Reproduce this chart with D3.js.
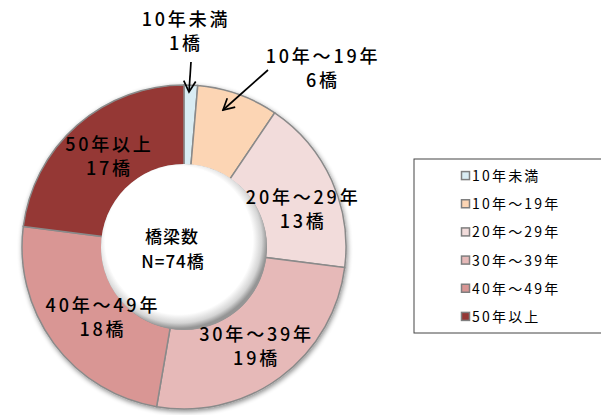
<!DOCTYPE html>
<html>
<head>
<meta charset="utf-8">
<script src="https://cdnjs.cloudflare.com/ajax/libs/d3/7.8.5/d3.min.js"></script>
<style>
  body { margin: 0; background: #fff; }
  svg { display: block; }
  text { font-family: "Noto Sans CJK JP", "Noto Sans", sans-serif; fill: #000; }
</style>
</head>
<body>
<svg id="chart" width="601" height="415"></svg>
<script>
// 橋梁の経過年数
var categories = ['10年未満', '10年～19年', '20年～29年', '30年～39年', '40年～49年', '50年以上'];
var counts = [1, 6, 13, 19, 18, 17];
var colors = ['#d9ecf3', '#fcd5b4', '#f2dcdb', '#e6b9b8', '#d99694', '#953735'];
var centerLines = ['橋梁数', 'N=74橋'];

var width = 601, height = 415;
var cx = 184, cy = 247, rOuter = 162, rInner = 82;

var svg = d3.select('#chart');
var defs = svg.append('defs');

var shadow = defs.append('filter').attr('id', 'shadow')
  .attr('x', '-10%').attr('y', '-10%').attr('width', '120%').attr('height', '120%');
shadow.append('feGaussianBlur').attr('in', 'SourceAlpha').attr('stdDeviation', 2.5).attr('result', 'b');
shadow.append('feOffset').attr('in', 'b').attr('dx', 1).attr('dy', 2).attr('result', 'o');
shadow.append('feComponentTransfer').attr('in', 'o').attr('result', 'o2')
  .append('feFuncA').attr('type', 'linear').attr('slope', 0.45);
var m = shadow.append('feMerge');
m.append('feMergeNode').attr('in', 'o2');
m.append('feMergeNode').attr('in', 'SourceGraphic');

var hole = defs.append('radialGradient').attr('id', 'hole')
  .attr('cx', '47%').attr('cy', '46%').attr('r', '53%');
hole.append('stop').attr('offset', '0%').attr('stop-color', '#fff');
hole.append('stop').attr('offset', '84%').attr('stop-color', '#fff');
hole.append('stop').attr('offset', '94%').attr('stop-color', '#d4d4d4');
hole.append('stop').attr('offset', '100%').attr('stop-color', '#959595');

var arrowMarker = defs.append('marker').attr('id', 'arr')
  .attr('viewBox', '-12 -7 14 14').attr('refX', 0).attr('refY', 0)
  .attr('markerWidth', 14).attr('markerHeight', 14)
  .attr('markerUnits', 'userSpaceOnUse').attr('orient', 'auto');
arrowMarker.append('path').attr('d', 'M-11,-6 L0,0 L-11,6')
  .attr('fill', 'none').attr('stroke', '#000').attr('stroke-width', 1.7);

var pie = d3.pie().sort(null).value(function(d) { return d; });
var arcs = pie(counts);
var arc = d3.arc().innerRadius(rInner).outerRadius(rOuter);

var g = svg.append('g').attr('transform', 'translate(' + cx + ',' + cy + ')');

g.append('g').attr('filter', 'url(#shadow)')
  .selectAll('path').data(arcs).enter().append('path')
  .attr('d', arc)
  .attr('fill', function(d, i) { return colors[i]; })
  .attr('stroke', '#8a8a8a')
  .attr('stroke-width', 1.5);

g.append('circle').attr('r', rInner + 1).attr('fill', 'url(#hole)');

// ラベル位置（重心からのずれ）
var labelLayout = [
  { r: 122, dx: 0, dy: 0, outside: true, x: 186, y: 20 },
  { r: 122, dx: 0, dy: 0, outside: true, x: 323, y: 57 },
  { r: 122, dx: 8, dy: 1 },
  { r: 122, dx: 0, dy: -10 },
  { r: 122, dx: 17, dy: -14 },
  { r: 122, dx: 6, dy: -10 }
];
var labelArc = d3.arc();

arcs.forEach(function(d, i) {
  var L = labelLayout[i];
  var px, py;
  if (L.outside) {
    px = L.x - cx; py = L.y - cy;
  } else {
    var c = labelArc.innerRadius(L.r).outerRadius(L.r).centroid(d);
    px = c[0] + L.dx; py = c[1] + L.dy;
  }
  var t = g.append('text').attr('text-anchor', 'middle')
    .attr('font-size', 18).attr('font-weight', 500).attr('letter-spacing', 2.8);
  t.append('tspan').attr('x', px).attr('y', py + 6).text(categories[i]);
  t.append('tspan').attr('x', px).attr('y', py + 30).text(counts[i] + '橋');
});

// 矢印
var arrows = [
  { from: [191 - cx, 62 - cy], to: [189 - cx, 92 - cy] },
  { from: [268 - cx, 70 - cy], to: [223 - cx, 110 - cy] }
];
arrows.forEach(function(a) {
  g.append('line')
    .attr('x1', a.from[0]).attr('y1', a.from[1])
    .attr('x2', a.to[0]).attr('y2', a.to[1])
    .attr('stroke', '#000').attr('stroke-width', 1.7)
    .attr('marker-end', 'url(#arr)');
});

var ct = g.append('text').attr('text-anchor', 'middle').attr('font-size', 17)
  .attr('font-weight', 500).attr('letter-spacing', 1);
ct.append('tspan').attr('x', -12).attr('y', -4).text(centerLines[0]);
ct.append('tspan').attr('x', -11).attr('y', 21).text(centerLines[1]);

// 凡例
var lg = svg.append('g').attr('transform', 'translate(414,159)');
lg.append('rect').attr('x', 0).attr('y', 0).attr('width', 190).attr('height', 174)
  .attr('fill', '#fff').attr('stroke', '#444').attr('stroke-width', 1);
var ly = d3.scaleBand().domain(categories).range([3, 172]);
var items = lg.selectAll('g.item').data(categories).enter().append('g')
  .attr('transform', function(d) { return 'translate(0,' + (ly(d) + ly.bandwidth() / 2) + ')'; });
items.append('rect').attr('x', 47.5).attr('y', -4.5).attr('width', 8).attr('height', 8)
  .attr('fill', function(d, i) { return colors[i]; })
  .attr('stroke', '#7f7f7f').attr('stroke-width', 1.5);
items.append('text').attr('x', 58).attr('y', 5).attr('font-size', 14).attr('letter-spacing', 2.2)
  .text(function(d) { return d; });
</script>
</body>
</html>
